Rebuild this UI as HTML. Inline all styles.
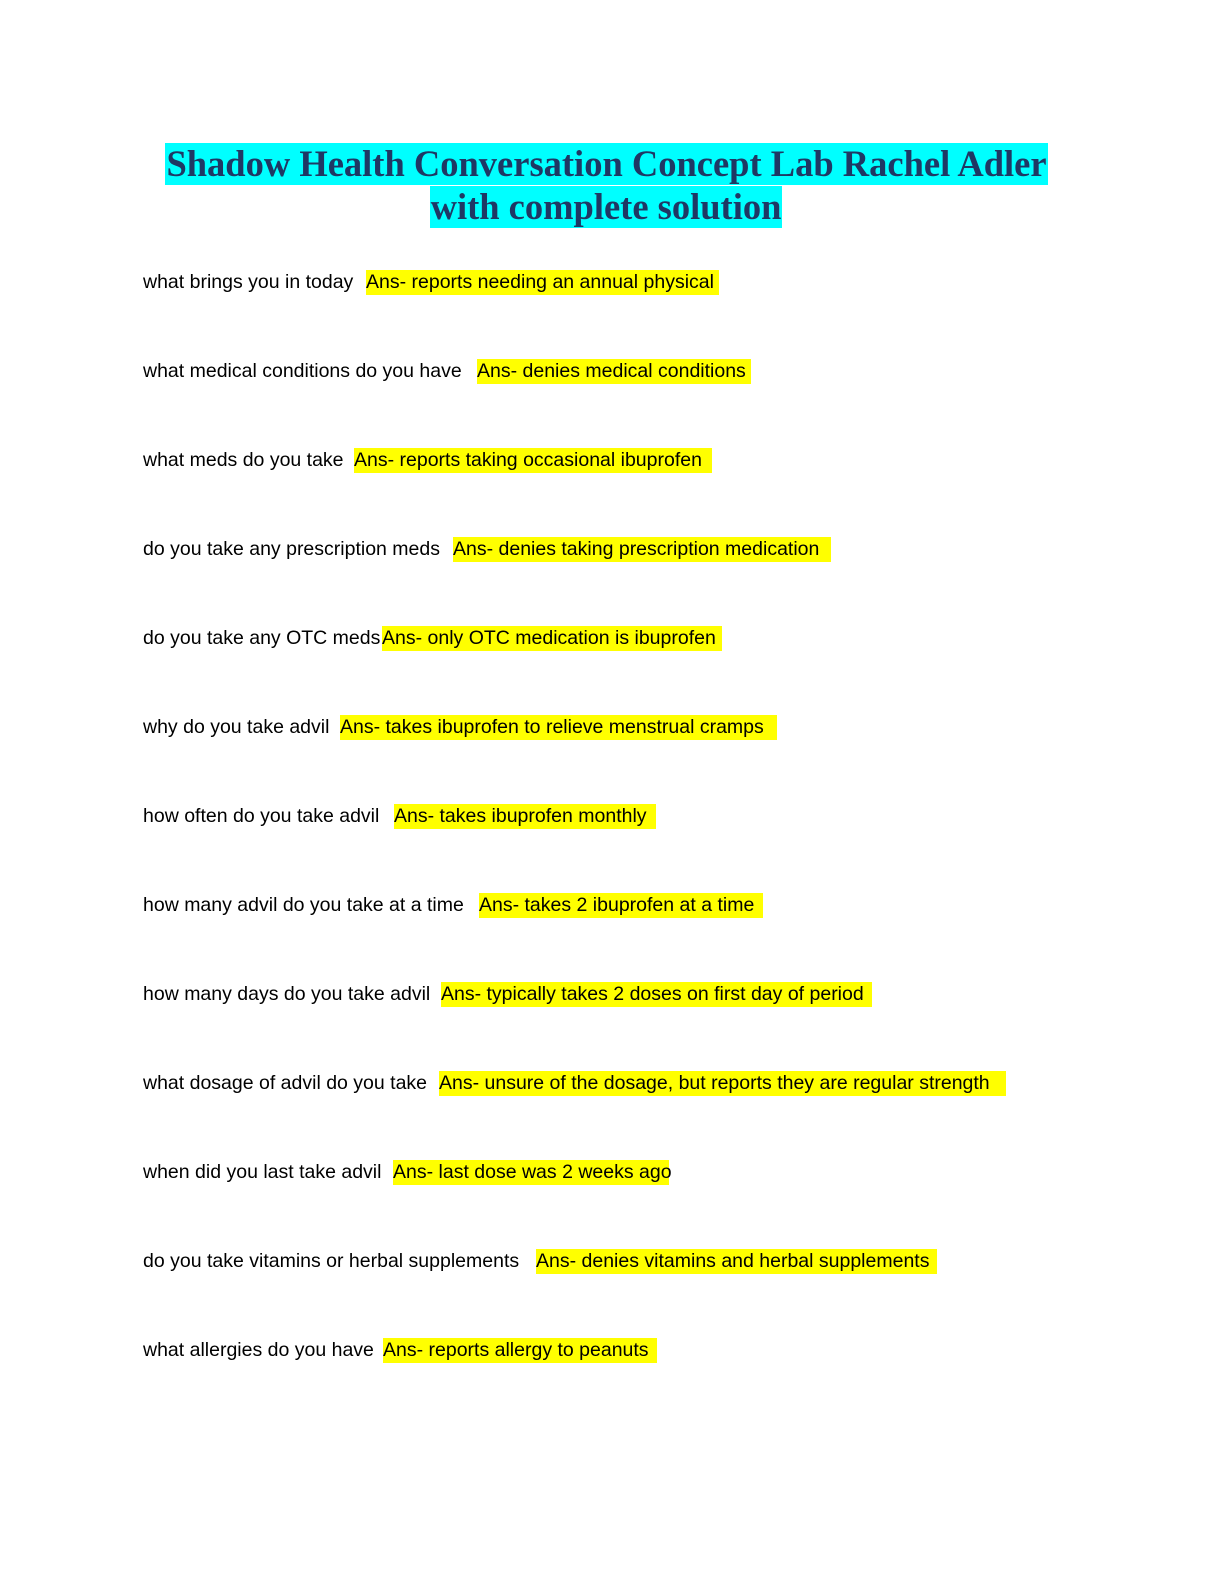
<!DOCTYPE html>
<html><head><meta charset="utf-8"><style>
html,body{margin:0;padding:0;background:#fff;}
body{width:1224px;height:1584px;position:relative;overflow:hidden;}
.t{position:absolute;font-family:"Liberation Serif",serif;font-weight:bold;font-size:36.5px;color:#1f3864;background:#00ffff;line-height:42px;white-space:nowrap;text-align:center;}
.q{position:absolute;left:143px;font-family:"Liberation Sans",sans-serif;font-size:19.5px;color:#000;line-height:25px;white-space:nowrap;}
.a{position:absolute;font-family:"Liberation Sans",sans-serif;font-size:19.5px;color:#000;background:#ffff00;line-height:25px;height:25px;white-space:nowrap;overflow:visible;}
</style></head><body>
<div class="t" style="left:165px;top:143px;width:883px;">Shadow Health Conversation Concept Lab Rachel Adler</div>
<div class="t" style="left:430px;top:186px;width:352px;">with complete solution</div>

<div class="q" style="top:270px">what brings you in today</div><div class="a" style="top:270px;left:366px;width:353px">Ans- reports needing an annual physical</div>
<div class="q" style="top:359px">what medical conditions do you have</div><div class="a" style="top:359px;left:477px;width:274px">Ans- denies medical conditions</div>
<div class="q" style="top:448px">what meds do you take</div><div class="a" style="top:448px;left:354px;width:358px">Ans- reports taking occasional ibuprofen</div>
<div class="q" style="top:537px">do you take any prescription meds</div><div class="a" style="top:537px;left:453px;width:378px">Ans- denies taking prescription medication</div>
<div class="q" style="top:626px">do you take any OTC meds</div><div class="a" style="top:626px;left:382px;width:340px">Ans- only OTC medication is ibuprofen</div>
<div class="q" style="top:715px">why do you take advil</div><div class="a" style="top:715px;left:340px;width:437px">Ans- takes ibuprofen to relieve menstrual cramps</div>
<div class="q" style="top:804px">how often do you take advil</div><div class="a" style="top:804px;left:394px;width:262px">Ans- takes ibuprofen monthly</div>
<div class="q" style="top:893px">how many advil do you take at a time</div><div class="a" style="top:893px;left:479px;width:284px">Ans- takes 2 ibuprofen at a time</div>
<div class="q" style="top:982px">how many days do you take advil</div><div class="a" style="top:982px;left:441px;width:431px">Ans- typically takes 2 doses on first day of period</div>
<div class="q" style="top:1071px">what dosage of advil do you take</div><div class="a" style="top:1071px;left:439px;width:567px">Ans- unsure of the dosage, but reports they are regular strength</div>
<div class="q" style="top:1160px">when did you last take advil</div><div class="a" style="top:1160px;left:393px;width:276px">Ans- last dose was 2 weeks ago</div>
<div class="q" style="top:1249px">do you take vitamins or herbal supplements</div><div class="a" style="top:1249px;left:536px;width:401px">Ans- denies vitamins and herbal supplements</div>
<div class="q" style="top:1338px">what allergies do you have</div><div class="a" style="top:1338px;left:383px;width:274px">Ans- reports allergy to peanuts</div>
</body></html>
